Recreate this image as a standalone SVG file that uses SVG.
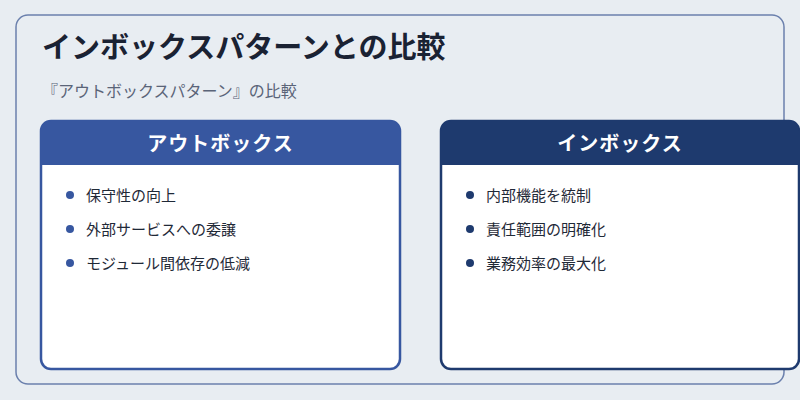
<svg xmlns="http://www.w3.org/2000/svg" width="800" height="400" viewBox="0 0 800 400">
<style>
.f{font-family:"Noto Sans CJK JP","Noto Sans",sans-serif}
.ht{font-size:20px;font-weight:bold;fill:#fff}
.it{font-size:15px;fill:#1f2937}
</style>
<rect width="800" height="400" fill="#e8edf2"/>
<rect x="16" y="15" width="768" height="369" rx="12" fill="none" stroke="#6b80ad" stroke-width="1.5"/>
<text class="f" x="42" y="58" font-size="29" font-weight="bold" fill="#1a2233">インボックスパターンとの比較</text>
<text class="f" x="42" y="97" font-size="16" fill="#5a6478">『アウトボックスパターン』の比較</text>
<g id="outbox">
<rect x="41" y="121" width="359" height="248" rx="10" fill="#fff" stroke="#3757a0" stroke-width="2.5"/>
<path d="M41,165 V131 a10,10 0 0 1 10,-10 H390 a10,10 0 0 1 10,10 V165 Z" fill="#3757a0"/>
<text class="f ht" x="220.5" y="151" text-anchor="middle" letter-spacing="1">アウトボックス</text>
<g fill="#3757a0"><circle cx="70" cy="195" r="4"/><circle cx="70" cy="229" r="4"/><circle cx="70" cy="263" r="4"/></g>
<text class="f it" x="86" y="201">保守性の向上</text>
<text class="f it" x="86" y="235">外部サービスへの委譲</text>
<text class="f it" x="86" y="269">モジュール間依存の低減</text>
</g>
<g id="inbox">
<rect x="441" y="121" width="358" height="248" rx="10" fill="#fff" stroke="#1e3a6e" stroke-width="2.5"/>
<path d="M441,165 V131 a10,10 0 0 1 10,-10 H789 a10,10 0 0 1 10,10 V165 Z" fill="#1e3a6e"/>
<text class="f ht" x="620" y="151" text-anchor="middle" letter-spacing="1">インボックス</text>
<g fill="#1e3a6e"><circle cx="470" cy="195" r="4"/><circle cx="470" cy="229" r="4"/><circle cx="470" cy="263" r="4"/></g>
<text class="f it" x="486" y="201">内部機能を統制</text>
<text class="f it" x="486" y="235">責任範囲の明確化</text>
<text class="f it" x="486" y="269">業務効率の最大化</text>
</g>
<g id="connectors"/>
</svg>
